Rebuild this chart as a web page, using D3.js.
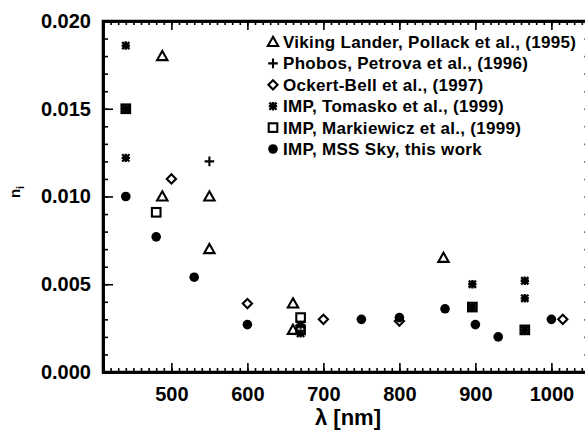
<!DOCTYPE html>
<html>
<head>
<meta charset="utf-8">
<script src="https://cdn.jsdelivr.net/npm/d3@7"></script>
<style>
  html, body { margin: 0; padding: 0; background: #fff; }
  svg { display: block; }
  text { font-family: "Liberation Sans", Arial, sans-serif; fill: #000; }
</style>
</head>
<body>
<svg id="chart" width="585" height="430"></svg>
<script>
// ---- data ----
const xTicks = [500, 600, 700, 800, 900, 1000];
const yTicks = [0.000, 0.005, 0.010, 0.015, 0.020];
const legendLabels = [
  "Viking Lander, Pollack et al., (1995)",
  "Phobos, Petrova et al., (1996)",
  "Ockert-Bell et al., (1997)",
  "IMP, Tomasko et al., (1999)",
  "IMP, Markiewicz et al., (1999)",
  "IMP, MSS Sky, this work"
];
const vikingWl  = [488, 488, 550, 550, 660, 660, 858];
const vikingNi  = [0.0180, 0.0100, 0.0100, 0.0070, 0.0039, 0.0024, 0.0065];
const phobosWl  = [550];
const phobosNi  = [0.0120];
const ockertWl  = [500, 600, 700, 800, 1015];
const ockertNi  = [0.0110, 0.0039, 0.0030, 0.0029, 0.0030];
const tomaskoWl = [440, 440, 440, 670, 670, 896, 896, 965, 965, 965];
const tomaskoNi = [0.0186, 0.0150, 0.0122, 0.0027, 0.0022, 0.0050, 0.0037, 0.0052, 0.0042, 0.0024];
const markWl    = [440, 480, 670, 670, 896, 965];
const markNi    = [0.0150, 0.0091, 0.0031, 0.0024, 0.0037, 0.0024];
const mssWl     = [440, 480, 530, 600, 750, 800, 860, 900, 930, 1000];
const mssNi     = [0.0100, 0.0077, 0.0054, 0.0027, 0.0030, 0.0031, 0.0036, 0.0027, 0.0020, 0.0030];

// ---- layout ----
const svg = d3.select("#chart");
const mLeft = 103, mRight = 589.4, mTop = 21, mBottom = 372;
const x = d3.scaleLinear().domain([410, 1050]).range([mLeft, mRight]);
const y = d3.scaleLinear().domain([0, 0.020]).range([mBottom, mTop]);

// symbols
const sym = {
  triangle: (g) => g.append("path").attr("d", "M0,-5.2L5.2,4L-5.2,4Z")
      .attr("fill", "none").attr("stroke", "#000").attr("stroke-width", 2.1).attr("stroke-linejoin", "miter"),
  plus: (g) => g.append("path").attr("d", "M-4.8,0H4.8M0,-4.8V4.8")
      .attr("fill", "none").attr("stroke", "#000").attr("stroke-width", 2.1),
  diamond: (g) => g.append("path").attr("d", "M0,-4.6L4.6,0L0,4.6L-4.6,0Z")
      .attr("fill", "none").attr("stroke", "#000").attr("stroke-width", 2.1),
  star: (g) => g.append("path").attr("d", "M-3.6,-3.6L3.6,3.6M-3.6,3.6L3.6,-3.6M-4.2,0H4.2M0,-4.2V4.2")
      .attr("fill", "none").attr("stroke", "#000").attr("stroke-width", 2.3),
  square: (g) => g.append("rect").attr("x", -4.3).attr("y", -4.3).attr("width", 8.6).attr("height", 8.6)
      .attr("fill", "none").attr("stroke", "#000").attr("stroke-width", 2.1),
  circle: (g) => g.append("circle").attr("r", 4.8).attr("fill", "#000")
};

function drawSeries(wl, ni, type) {
  const pts = wl.map((w, i) => ({w, v: ni[i]}));
  svg.append("g").selectAll("g").data(pts).join("g")
    .attr("transform", d => `translate(${x(d.w)},${y(d.v)})`)
    .each(function() { sym[type](d3.select(this)); });
}

// ---- axes ----
const axisG = svg.append("g");
const xMinor = d3.range(410, 1051, 10);
const yMinor = d3.range(0, 0.0201, 0.001);

// bottom axis (ticks inward / up)
axisG.append("g").attr("transform", `translate(0,${mBottom})`)
  .call(d3.axisTop(x).tickValues(xMinor).tickSize(4).tickFormat(""));
axisG.append("g").attr("transform", `translate(0,${mBottom})`)
  .call(d3.axisTop(x).tickValues(xTicks).tickSize(9).tickFormat(""));
const bl = axisG.append("g").attr("transform", `translate(0,${mBottom})`)
  .call(d3.axisBottom(x).tickValues(xTicks).tickSize(0).tickPadding(15).tickFormat(d3.format("d")));
bl.select(".domain").remove();
bl.selectAll("text").attr("font-size", 20).attr("font-weight", "bold")
  .attr("font-family", "Liberation Sans, Arial, sans-serif").attr("fill", "#000");

// top axis (ticks inward / down)
axisG.append("g").attr("transform", `translate(0,${mTop})`)
  .call(d3.axisBottom(x).tickValues(xMinor).tickSize(4).tickFormat(""));
axisG.append("g").attr("transform", `translate(0,${mTop})`)
  .call(d3.axisBottom(x).tickValues(xTicks).tickSize(9).tickFormat(""));

// left axis (ticks inward / right)
axisG.append("g").attr("transform", `translate(${mLeft},0)`)
  .call(d3.axisRight(y).tickValues(yMinor).tickSize(5).tickFormat(""));
axisG.append("g").attr("transform", `translate(${mLeft},0)`)
  .call(d3.axisRight(y).tickValues(yTicks).tickSize(10).tickFormat(""));
const ll = axisG.append("g").attr("transform", `translate(${mLeft},0)`)
  .call(d3.axisLeft(y).tickValues(yTicks).tickSize(0).tickPadding(12).tickFormat(d3.format(".3f")));
ll.select(".domain").remove();
ll.selectAll("text").attr("font-size", 20).attr("font-weight", "bold")
  .attr("font-family", "Liberation Sans, Arial, sans-serif").attr("fill", "#000");

// right axis (at the clipped edge)
axisG.append("g").attr("transform", `translate(${mRight},0)`)
  .call(d3.axisLeft(y).tickValues(yMinor).tickSize(5).tickFormat(""));

axisG.selectAll(".tick line").attr("stroke", "#000").attr("stroke-width", 1.6);
axisG.selectAll(".domain").attr("stroke", "#000").attr("stroke-width", 2.6);

// frame
axisG.append("path")
  .attr("d", `M${mLeft},${mTop}H${mRight}V${mBottom}H${mLeft}Z`)
  .attr("fill", "none").attr("stroke", "#000").attr("stroke-width", 2.6);

// ---- axis titles ----
svg.append("text").attr("x", 348).attr("y", 425).attr("text-anchor", "middle")
  .attr("font-size", 22).attr("font-weight", "bold").text("λ [nm]");
const yl = svg.append("text").attr("transform", "translate(20,192) rotate(-90)")
  .attr("text-anchor", "middle").attr("font-size", 15).attr("font-weight", "bold");
yl.append("tspan").text("n");
yl.append("tspan").attr("font-size", 11).attr("dy", 4).text("i");

// ---- data ----
drawSeries(vikingWl, vikingNi, "triangle");
drawSeries(phobosWl, phobosNi, "plus");
drawSeries(ockertWl, ockertNi, "diamond");
drawSeries(tomaskoWl, tomaskoNi, "star");
drawSeries(markWl, markNi, "square");
drawSeries(mssWl, mssNi, "circle");

// ---- legend ----
const legTypes = ["triangle", "plus", "diamond", "star", "square", "circle"];
const leg = svg.append("g").selectAll("g").data(legendLabels).join("g")
  .attr("transform", (d, i) => `translate(273,${42 + i * 21.4})`);
leg.each(function(d, i) { sym[legTypes[i]](d3.select(this)); });
leg.append("text").attr("x", 10).attr("y", 6).attr("font-size", 17).attr("font-weight", "bold")
  .attr("letter-spacing", 0.3)
  .text(d => d);
</script>
</body>
</html>
